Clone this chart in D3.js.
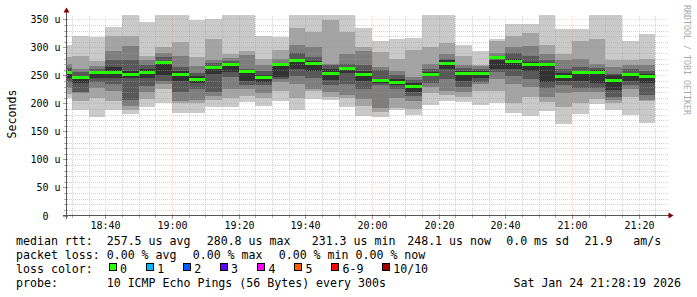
<!DOCTYPE html>
<html><head><meta charset="utf-8">
<script src="https://cdn.jsdelivr.net/npm/d3@7"></script>
<style>
html,body{margin:0;padding:0;background:#fff;}
svg{display:block;}
text{font-family:"DejaVu Sans Mono",monospace;}
</style></head><body>
<svg id="c" width="697" height="297"></svg>
<script>
// ---------- DATA ----------
const binStarts = ["18:25","18:30","18:35","18:40","18:45","18:50","18:55","19:00","19:05","19:10","19:15","19:20",
  "19:25","19:30","19:35","19:40","19:45","19:50","19:55","20:00","20:05","20:10","20:15","20:20",
  "20:25","20:30","20:35","20:40","20:45","20:50","20:55","21:00","21:05","21:10","21:15","21:20"];
// sorted ping RTTs (microseconds), 10 per bin
const pings = [
  [210,216,228,238,246,259,263,270,282,304],
  [188,204,218,220,236,249,256,262,284,320],
  [176,210,228,238,246,257,262,267,275,318],
  [189,205,222,235,246,265,277,293,321,336],
  [181,188,195,206,246,258,277,302,321,365],
  [194,208,220,231,246,262,268,277,285,345],
  [200,226,235,240,250,276,282,290,300,365],
  [183,200,205,221,240,258,265,285,310,365],
  [183,200,206,226,236,248,255,266,283,348],
  [194,206,213,221,252,266,272,278,314,350],
  [194,210,226,247,256,267,275,281,289,365],
  [203,213,225,232,240,255,262,286,293,365],
  [195,210,218,232,238,250,258,268,280,321],
  [204,222,238,244,247,267,272,280,296,318],
  [188,210,235,248,262,278,290,304,334,365],
  [207,223,226,246,258,276,283,301,327,365],
  [206,212,220,232,242,262,268,271,348,365],
  [194,210,215,235,255,265,270,288,327,365],
  [177,196,208,225,240,257,268,293,301,334],
  [176,185,191,232,236,244,260,265,292,312],
  [188,191,210,226,232,244,250,258,280,315],
  [179,190,205,213,221,236,242,247,295,316],
  [197,218,230,236,248,256,262,271,300,365],
  [204,215,223,244,262,277,280,289,308,365],
  [203,212,221,230,240,258,263,268,284,304],
  [198,222,234,238,246,258,262,266,268,293],
  [200,223,244,256,262,278,284,290,311,314],
  [182,200,234,248,262,280,290,300,321,342],
  [177,212,230,244,258,274,284,302,326,341],
  [186,203,212,228,238,266,278,289,304,365],
  [164,194,218,232,240,255,262,278,289,332],
  [181,200,220,228,240,258,265,280,311,332],
  [199,207,220,227,236,260,264,270,314,365],
  [188,200,206,212,224,250,253,265,277,365],
  [179,212,226,232,240,255,262,268,277,311],
  [165,204,206,215,236,252,258,268,279,323]
];
const medians = [255,246,255,256,252,256,273,251,242,264,269,257,247,269,276,272,254,262,252,241,238,231,252,271,
  254,254,281,274,270,270,248,255,256,240,251,248];
const lossCount = medians.map(() => 0);

const yTicks = [0,50,100,150,200,250,300,350];
const yTickLabels = ["0  ","50 u","100 u","150 u","200 u","250 u","300 u","350 u"];
const xTickLabels = ["18:40","19:00","19:20","19:40","20:00","20:20","20:40","21:00","21:20"];

const rttStats = ["257.5 us avg","280.8 us max","231.3 us min","248.1 us now","0.0 ms sd","21.9   am/s"];
const lossStats = ["0.00 % avg","0.00 % max","0.00 % min","0.00 % now"];
const lossLabels = ["0","1","2","3","4","5","6-9","10/10"];
const lossColors = ["#26ff00","#00b8ff","#0059ff","#5e00ff","#ff00ff","#ff5e00","#ff0000","#a10000"];
const probeText = "10 ICMP Echo Pings (56 Bytes) every 300s";
const stampText = "Sat Jan 24 21:28:19 2026";
const smokeGrays = ["#cacaca","#a4a4a4","#7e7e7e","#585858","#323232"];

// ---------- LAYOUT ----------
const nb = s => s.replace(/ /g, "\u00a0");
const svg = d3.select("#c");
const day = (h,m,s=0) => new Date(2026,0,24,h,m,s);
const parseHM = s => { const [h,m] = s.split(":").map(Number); return day(h,m); };
const t0 = day(18,28,19), t1 = day(21,28,19);
const X0 = 66.5, X1 = 666.5, Y0 = 215.5, YT = 15.5;
const x = d3.scaleTime().domain([t0,t1]).range([X0,X1]);
const y = d3.scaleLinear().domain([0,356.8]).range([Y0,YT]);
const snap = v => Math.round(v);

svg.append("rect").attr("width",697).attr("height",297).attr("fill","#fff");

svg.append("clipPath").attr("id","pc").append("rect")
  .attr("x",67).attr("y",15).attr("width",600).attr("height",200.5);

const plot = svg.append("g").attr("clip-path","url(#pc)").attr("shape-rendering","crispEdges");

const bins = binStarts.map((s,i) => ({t:parseHM(s), p:pings[i], med:medians[i], loss:lossCount[i]}));

// smoke
bins.forEach(b => {
  const xa = snap(x(b.t)), xb = snap(x(d3.timeMinute.offset(b.t,5)));
  for (let k=0;k<5;k++){
    const top = snap(y(b.p[9-k])), bot = snap(y(b.p[k]));
    plot.append("rect").attr("x",xa).attr("width",xb-xa)
      .attr("y",top).attr("height",Math.max(0,bot-top)).attr("fill",smokeGrays[k]);
  }
});
// median bars
bins.forEach(b => {
  const xa = snap(x(b.t)), xb = snap(x(d3.timeMinute.offset(b.t,5)));
  const ym = y(b.med);
  plot.append("rect").attr("x",xa).attr("width",xb-xa)
    .attr("y",Math.round(ym-1.5)).attr("height",3)
    .attr("fill",lossColors[b.loss===0?0:Math.min(7,b.loss)]);
});

// grid (on top, like rrdtool)
const grid = svg.append("g").attr("shape-rendering","crispEdges");
const minorV = d3.timeMinute.every(5).range(t0,t1);
const majorV = d3.timeMinute.every(20).range(t0,t1);
const minorH = d3.range(0,351,10), majorH = yTicks;
const minorCol = "rgba(160,160,160,0.45)", majorCol = "rgba(255,60,60,0.22)";
minorH.filter(v=>v%50!==0 && v>0).forEach(v=>{
  const yy = snap(y(v))+0.5;
  grid.append("line").attr("x1",X0).attr("x2",X1+1).attr("y1",yy).attr("y2",yy)
    .attr("stroke",minorCol).attr("stroke-dasharray","1,1");
});
minorV.filter(t=>t.getMinutes()%20!==0).forEach(t=>{
  const xx = snap(x(t))+0.5;
  grid.append("line").attr("x1",xx).attr("x2",xx).attr("y1",YT).attr("y2",Y0)
    .attr("stroke",minorCol).attr("stroke-dasharray","1,1");
});
majorH.filter(v=>v>0).forEach(v=>{
  const yy = snap(y(v))+0.5;
  grid.append("line").attr("x1",X0).attr("x2",X1+1).attr("y1",yy).attr("y2",yy)
    .attr("stroke",majorCol).attr("stroke-dasharray","1,1");
});
majorV.forEach(t=>{
  const xx = snap(x(t))+0.5;
  grid.append("line").attr("x1",xx).attr("x2",xx).attr("y1",YT).attr("y2",Y0)
    .attr("stroke",majorCol).attr("stroke-dasharray","1,1");
});

// axes
const ax = svg.append("g").attr("shape-rendering","crispEdges");
minorH.forEach(v=>{
  const yy = snap(y(v))+0.5, maj = v%50===0;
  ax.append("line").attr("x1",maj?63:64).attr("x2",68).attr("y1",yy).attr("y2",yy)
    .attr("stroke",maj?"#c09090":"#b0b0b0");
});
minorV.forEach(t=>{
  const xx = snap(x(t))+0.5, maj = t.getMinutes()%20===0;
  ax.append("line").attr("x1",xx).attr("x2",xx).attr("y1",214).attr("y2",maj?219:218)
    .attr("stroke",maj?"#c09090":"#b0b0b0");
});
ax.append("line").attr("x1",66.5).attr("x2",66.5).attr("y1",219).attr("y2",11).attr("stroke","#555");
ax.append("line").attr("x1",63).attr("x2",670).attr("y1",215.5).attr("y2",215.5).attr("stroke","#555");
svg.append("path").attr("d","M66.5,7.5 L63.5,12.5 L69.5,12.5 Z").attr("fill","#7f0000");
svg.append("path").attr("d","M673.5,215.5 L668.5,212.5 L668.5,218.5 Z").attr("fill","#7f0000");

// tick labels
svg.append("g").selectAll("text").data(yTicks).join("text")
  .attr("x",60.5).attr("y",d=>snap(y(d))+4).attr("text-anchor","end")
  .attr("font-size",10).attr("fill","#000")
  .text((d,i)=>nb(yTickLabels[i]));
const xTickTimes = xTickLabels.map(parseHM);
svg.append("g").selectAll("text").data(xTickTimes).join("text")
  .attr("x",d=>snap(x(d))+0.5).attr("y",228.5).attr("text-anchor","middle")
  .attr("font-size",10).attr("fill","#000").text((d,i)=>xTickLabels[i]);

// y axis title
svg.append("text").attr("transform","translate(15.5,114) rotate(-90)")
  .attr("text-anchor","middle").attr("font-size",11.6).attr("fill","#000").text("Seconds");

// watermark
svg.append("text").attr("transform","translate(684,5) rotate(90)")
  .attr("font-size",9).attr("fill","#a8a8a8")
  .attr("textLength",110).attr("lengthAdjust","spacingAndGlyphs")
  .text("RRDTOOL / TOBI OETIKER");

// legend
const lg = svg.append("g").attr("font-size",11.6).attr("fill","#000");
const rowY = [244.5,258.5,272.5,286.5];
lg.append("text").attr("x",16).attr("y",rowY[0]).text("median rtt:");
const rttX = [106.7,206.7,311.7,407.2,506.2,584.5];
rttStats.forEach((s,i)=>lg.append("text").attr("x",rttX[i]).attr("y",rowY[0]).text(nb(s)));
lg.append("text").attr("x",16).attr("y",rowY[1]).text("packet loss:");
const lossX = [106.7,192.7,278.7,355.5];
lossStats.forEach((s,i)=>lg.append("text").attr("x",lossX[i]).attr("y",rowY[1]).text(nb(s)));
lg.append("text").attr("x",16).attr("y",rowY[2]).text("loss color:");
const boxX = [108.5,145.7,182.7,219.5,257,294,331,381.7];
lossLabels.forEach((s,i)=>{
  lg.append("rect").attr("x",boxX[i]+0.5).attr("y",263.5).attr("width",7).attr("height",7)
    .attr("fill",lossColors[i]).attr("stroke","#000").attr("stroke-width",1).attr("shape-rendering","crispEdges");
  lg.append("text").attr("x",boxX[i]+11.5).attr("y",rowY[2]).text(s);
});
lg.append("text").attr("x",16).attr("y",rowY[3]).text("probe:");
lg.append("text").attr("x",106.7).attr("y",rowY[3]).text(probeText);
lg.append("text").attr("x",681).attr("y",rowY[3]).attr("text-anchor","end").text(stampText);
</script>
</body></html>
